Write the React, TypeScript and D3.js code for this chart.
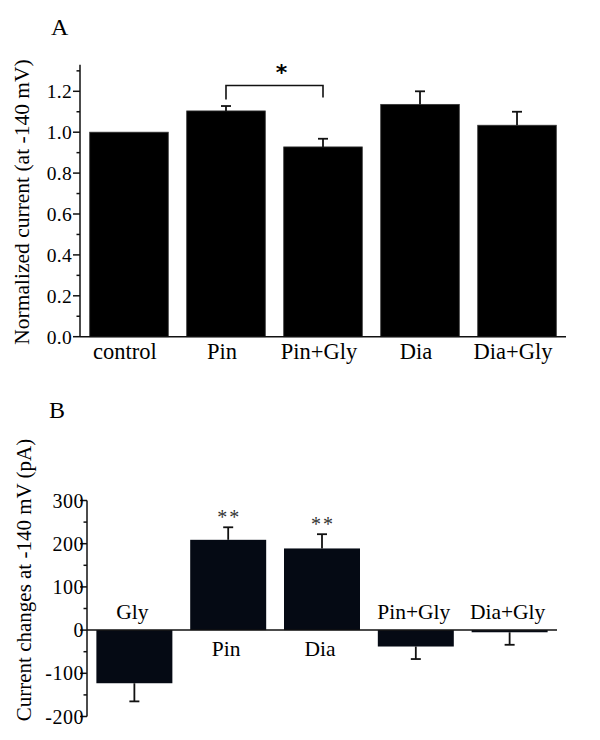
import React from 'react';
import * as d3 from 'd3';

const catsA = ['control', 'Pin', 'Pin+Gly', 'Dia', 'Dia+Gly'];
const meanA = [1.0, 1.104, 0.928, 1.136, 1.034];
const errA = [0, 0.024, 0.04, 0.064, 0.066];
const ticksA = [0, 0.2, 0.4, 0.6, 0.8, 1.0, 1.2];
const minorA = [0.1, 0.3, 0.5, 0.7, 0.9, 1.1, 1.3];

const catsB = ['Gly', 'Pin', 'Dia', 'Pin+Gly', 'Dia+Gly'];
const meanB = [-123, 209, 189, -38, -5];
const errB = [42, 29, 33, 29, 29];
const ticksB = [-200, -100, 0, 100, 200, 300];
const minorB = [-150, -50, 50, 150, 250];
const sigB = ['', '**', '**', '', ''];

const FONT = '"Liberation Serif", "Times New Roman", serif';

export default function App() {
  // Panel A scales
  const xA = d3.scaleBand<string>().domain(catsA).range([80, 566]).paddingInner(0.19).paddingOuter(0.1);
  const yA = d3.scaleLinear().domain([0, 1.2]).range([336.7, 91.3]);
  const fmtA = d3.format('.1f');
  // Panel B scales
  const xB = d3.scaleBand<string>().domain(catsB).range([87, 557]).paddingInner(0.19).paddingOuter(0.1);
  const yB = d3.scaleLinear().domain([-200, 300]).range([716.5, 500.5]);

  const cap = 5;
  const pinX = xA('Pin')! + xA.bandwidth() / 2;
  const pgX = xA('Pin+Gly')! + xA.bandwidth() / 2;

  return (
    <svg width={600} height={740} style={{ position: 'absolute', left: 0, top: 0, background: '#fff' }} fontFamily={FONT}>
      <rect x={0} y={0} width={600} height={740} fill="#fff" />
      {/* ===== Panel A ===== */}
      <text x={51} y={35} fontSize={24}>A</text>
      <text transform={`translate(29,${202}) rotate(-90)`} textAnchor="middle" fontSize={21.5}>
        Normalized current (at -140 mV)
      </text>
      {catsA.map((c, i) => {
        const x0 = xA(c)!;
        const w = xA.bandwidth();
        const cx = x0 + w / 2;
        return (
          <g key={c}>
            <rect x={x0} y={yA(meanA[i])} width={w} height={yA(0) - yA(meanA[i])} fill="#000" stroke="#333" strokeWidth={0.8} />
            {errA[i] > 0 && (
              <g stroke="#111" strokeWidth={1.8}>
                <line x1={cx} x2={cx} y1={yA(meanA[i])} y2={yA(meanA[i] + errA[i])} />
                <line x1={cx - cap} x2={cx + cap} y1={yA(meanA[i] + errA[i])} y2={yA(meanA[i] + errA[i])} />
              </g>
            )}
            <text x={cx - 4} y={359} textAnchor="middle" fontSize={22.5}>{c}</text>
          </g>
        );
      })}
      {/* axes A */}
      <g stroke="#111" strokeWidth={1.5}>
        <line x1={80} x2={80} y1={yA(0)} y2={yA(1.33)} />
        <line x1={80} x2={566} y1={yA(0)} y2={yA(0)} />
        {ticksA.map(t => <line key={t} x1={73} x2={80} y1={yA(t)} y2={yA(t)} />)}
        {minorA.map(t => <line key={t} x1={76.5} x2={80} y1={yA(t)} y2={yA(t)} />)}
      </g>
      {ticksA.map(t => (
        <text key={t} x={72} y={yA(t)} dy="0.35em" textAnchor="end" fontSize={19.5} letterSpacing={0.3}>{fmtA(t)}</text>
      ))}
      {/* significance bracket */}
      <path d={`M${pinX},${yA(1.16)} V${yA(1.228)} H${pgX} V${yA(1.17)}`} fill="none" stroke="#111" strokeWidth={1.6} />
      <text x={(pinX + pgX) / 2 + 7} y={80} textAnchor="middle" fontSize={22} fontWeight="bold" fontFamily='"DejaVu Sans", sans-serif'>*</text>

      {/* ===== Panel B ===== */}
      <text x={49} y={418} fontSize={24}>B</text>
      <text transform={`translate(31,${580}) rotate(-90)`} textAnchor="middle" fontSize={21}>
        Current changes at -140 mV (pA)
      </text>
      {catsB.map((c, i) => {
        const x0 = xB(c)!;
        const w = xB.bandwidth();
        const cx = x0 + w / 2;
        const v = meanB[i];
        const top = Math.min(yB(v), yB(0));
        const h = Math.abs(yB(v) - yB(0));
        const ev = v >= 0 ? v + errB[i] : v - errB[i];
        return (
          <g key={c}>
            <rect x={x0} y={top} width={w} height={Math.max(h, 2)} fill="#050a14" />
            <g stroke="#111" strokeWidth={1.8}>
              <line x1={cx} x2={cx} y1={yB(v)} y2={yB(ev)} />
              <line x1={cx - cap} x2={cx + cap} y1={yB(ev)} y2={yB(ev)} />
            </g>
            <text x={cx - 2} y={v >= 0 ? 656 : 619} textAnchor="middle" fontSize={21.5}>{c}</text>
            {sigB[i] && (
              <text x={cx + 1} y={yB(ev) - 3.5} textAnchor="middle" fontSize={20} fill="#333" letterSpacing={2}>{sigB[i]}</text>
            )}
          </g>
        );
      })}
      <g stroke="#111" strokeWidth={1.5}>
        <line x1={87} x2={87} y1={yB(-200)} y2={yB(300)} />
        <line x1={87} x2={557} y1={yB(0)} y2={yB(0)} />
        {ticksB.map(t => <line key={t} x1={80} x2={87} y1={yB(t)} y2={yB(t)} />)}
        {minorB.map(t => <line key={t} x1={83.5} x2={87} y1={yB(t)} y2={yB(t)} />)}
      </g>
      {ticksB.map(t => (
        <text key={t} x={84} y={yB(t)} dy="0.35em" textAnchor="end" fontSize={20} letterSpacing={0.5}>{t}</text>
      ))}
    </svg>
  );
}
